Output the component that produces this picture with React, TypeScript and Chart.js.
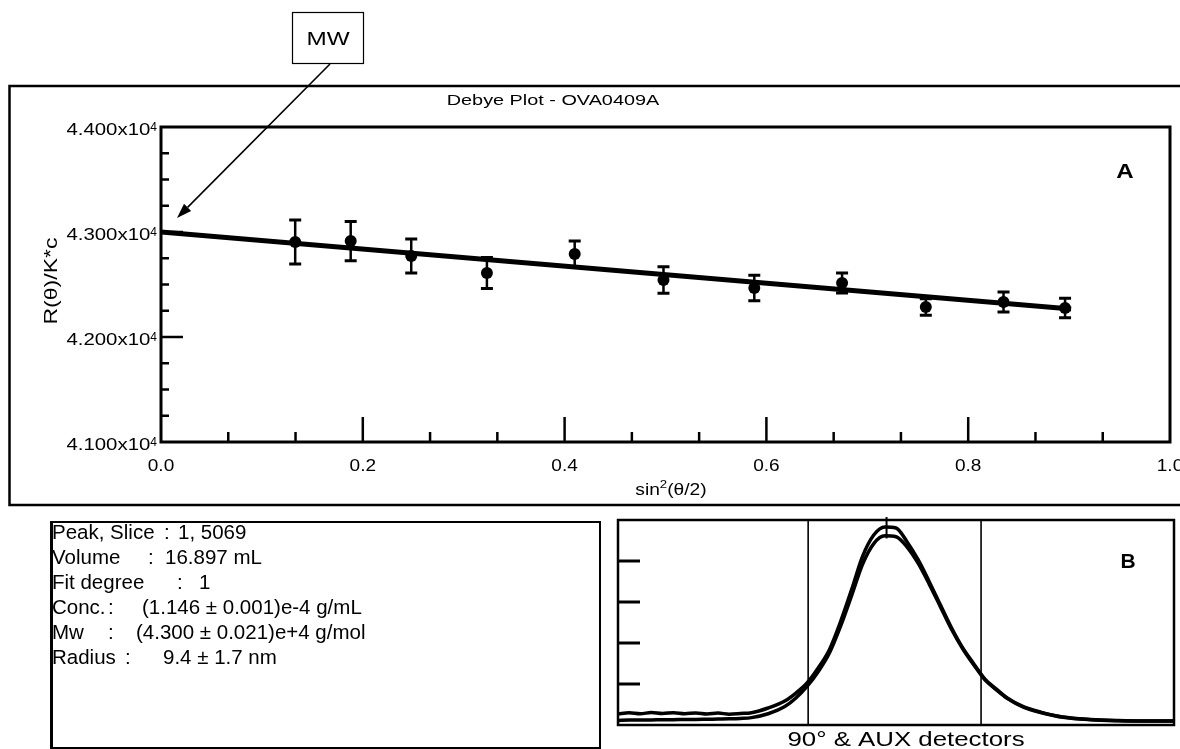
import React, { useEffect, useRef } from "react";
import { Chart, registerables } from "chart.js";
Chart.register(...registerables);

// ---------- Panel A: Debye plot ----------
const sinSq = [0.133, 0.188, 0.248, 0.323, 0.41, 0.498, 0.588, 0.675, 0.758, 0.835, 0.896];
const rk = [42905, 42914, 42771, 42610, 42790, 42543, 42467, 42514, 42286, 42333, 42276];
const rkErr = [210, 187, 162, 148, 124, 127, 121, 95, 78, 95, 93];
const fitX = [0, 0.902];
const fitY = [43000, 42267];
const yMajorTicks = [41000, 42000, 43000, 44000];
const yTickLabels = ["4.100x10", "4.200x10", "4.300x10", "4.400x10"];
const yTickExp = "4";
const yMinorStep = 250;
const xMajorTicks = [0, 0.2, 0.4, 0.6, 0.8, 1.0];
const xTickLabels = ["0.0", "0.2", "0.4", "0.6", "0.8", "1.0"];
const xMinorPerMajor = 3;
const titleA = "Debye Plot - OVA0409A";

// ---------- Panel B: detector traces ----------
const elutionX = [0, 2, 4, 6, 8, 10, 12, 14, 16, 18, 20, 22, 24, 27, 30, 32, 34, 36, 38, 40, 42, 44, 46, 48, 50, 52, 54, 56, 58, 60, 62, 64, 66, 68, 70, 73, 76, 80, 85, 90, 95, 100];
const det90 = [5.4, 6.0, 5.5, 6.1, 5.6, 6.0, 5.5, 5.9, 5.4, 5.8, 5.3, 5.6, 6.0, 8.3, 11.7, 15.6, 20.5, 27.8, 36.6, 50.2, 65.9, 82.4, 92.7, 96.6, 96.1, 89.3, 80.5, 69.8, 58.5, 47.3, 37.6, 29.8, 22.4, 17.6, 13.2, 8.8, 6.3, 3.9, 2.7, 2.2, 2.0, 2.0];
const detAux = [2.2, 2.4, 2.5, 2.5, 2.6, 2.6, 2.7, 2.7, 2.8, 2.9, 3.0, 3.2, 3.6, 5.5, 9.0, 13.2, 18.8, 26.0, 35.0, 48.0, 63.0, 78.5, 88.5, 92.3, 91.8, 86.8, 78.8, 68.6, 57.6, 46.6, 37.2, 29.3, 22.0, 17.3, 13.0, 8.6, 6.1, 3.8, 2.6, 2.1, 1.9, 1.9];
const windowLines = [34.2, 65.3];
const peakSlice = 48.3;
const peakSliceTop = 91;
const bTicks = [20, 40, 60, 80];
const titleB = "90° & AUX detectors";

const infoLines = [
  ["Peak, Slice", ":", "1, 5069"],
  ["Volume", ":", "16.897 mL"],
  ["Fit degree", ":", "1"],
  ["Conc.", ":", "(1.146 ± 0.001)e-4 g/mL"],
  ["Mw", ":", "(4.300 ± 0.021)e+4 g/mol"],
  ["Radius", ":", "9.4 ± 1.7 nm"],
];
const infoColonX = [164, 148, 177, 108, 108, 125];
const infoValueX = [178, 165, 199, 142, 136, 163];

const FONT = '"Liberation Sans", Arial, Helvetica, sans-serif';

function drawText(
  ctx: CanvasRenderingContext2D,
  s: string,
  x: number,
  y: number,
  size: number,
  opts: { align?: string; sx?: number; bold?: boolean } = {}
) {
  const sx = opts.sx ?? 1;
  ctx.save();
  ctx.font = `${opts.bold ? "bold " : ""}${size}px ${FONT}`;
  ctx.textAlign = "left";
  ctx.textBaseline = "alphabetic";
  ctx.fillStyle = "#000";
  const w = ctx.measureText(s).width * sx;
  const x0 = opts.align === "center" ? x - w / 2 : opts.align === "right" ? x - w : x;
  ctx.translate(x0, y);
  ctx.scale(sx, 1);
  ctx.fillText(s, 0, 0);
  ctx.restore();
  return w;
}

const panelAPlugin = {
  id: "panelA",
  beforeDatasetsDraw(chart: any) {
    const { ctx, scales } = chart;
    const x = scales.x, y = scales.y;
    ctx.save();
    ctx.strokeStyle = "#000";
    sinSq.forEach((sv, i) => {
      const px = x.getPixelForValue(sv);
      const t = y.getPixelForValue(rk[i] + rkErr[i]);
      const b = y.getPixelForValue(rk[i] - rkErr[i]);
      ctx.lineWidth = 2.5;
      ctx.beginPath();
      ctx.moveTo(px, t);
      ctx.lineTo(px, b);
      ctx.stroke();
      ctx.lineWidth = 3;
      ctx.beginPath();
      ctx.moveTo(px - 6, t);
      ctx.lineTo(px + 6, t);
      ctx.moveTo(px - 6, b);
      ctx.lineTo(px + 6, b);
      ctx.stroke();
    });
    ctx.restore();
  },
  afterDraw(chart: any) {
    const { ctx, chartArea: a, scales } = chart;
    const x = scales.x, y = scales.y;
    ctx.save();
    ctx.strokeStyle = "#000";
    ctx.fillStyle = "#000";
    // outer frame (open on the right)
    ctx.lineWidth = 2.5;
    ctx.beginPath();
    ctx.moveTo(1180, 86);
    ctx.lineTo(9.5, 86);
    ctx.lineTo(9.5, 505);
    ctx.lineTo(1180, 505);
    ctx.stroke();
    // plot frame
    ctx.lineWidth = 3;
    ctx.strokeRect(a.left, a.top, a.right - a.left, a.bottom - a.top);
    // y ticks (inside)
    ctx.lineWidth = 2.5;
    for (let v = y.min + yMinorStep; v < y.max; v += yMinorStep) {
      const py = y.getPixelForValue(v);
      const major = yMajorTicks.includes(v);
      ctx.beginPath();
      ctx.moveTo(a.left, py);
      ctx.lineTo(a.left + (major ? 22 : 8), py);
      ctx.stroke();
    }
    // x ticks (inside)
    const step = (xMajorTicks[1] - xMajorTicks[0]) / xMinorPerMajor;
    const n = Math.round((x.max - x.min) / step);
    for (let k = 1; k < n; k++) {
      const px = x.getPixelForValue(x.min + k * step);
      const major = k % xMinorPerMajor === 0;
      ctx.beginPath();
      ctx.moveTo(px, a.bottom);
      ctx.lineTo(px, a.bottom - (major ? 25 : 10));
      ctx.stroke();
    }
    // y tick labels
    yMajorTicks.forEach((v, i) => {
      const py = y.getPixelForValue(v);
      ctx.font = `12px ${FONT}`;
      const supW = ctx.measureText(yTickExp).width;
      drawText(ctx, yTickExp, a.left - 4 - supW, py + 4, 12);
      drawText(ctx, yTickLabels[i], a.left - 4 - supW, py + 8, 17, { align: "right", sx: 1.2 });
    });
    // x tick labels
    xMajorTicks.forEach((v, i) => {
      const px = x.getPixelForValue(v);
      drawText(ctx, xTickLabels[i], px, 471, 17, { align: "center", sx: 1.12 });
    });
    // x title: sin²(θ/2)
    {
      const sx = 1.2;
      ctx.font = `16px ${FONT}`;
      const w1 = ctx.measureText("sin").width * sx;
      ctx.font = `11px ${FONT}`;
      const w2 = ctx.measureText("2").width * sx;
      ctx.font = `16px ${FONT}`;
      const w3 = ctx.measureText("(θ/2)").width * sx;
      const total = w1 + w2 + w3;
      const cx = 671 - total / 2;
      drawText(ctx, "sin", cx, 495, 16, { sx });
      drawText(ctx, "2", cx + w1, 488, 11, { sx });
      drawText(ctx, "(θ/2)", cx + w1 + w2, 495, 16, { sx });
    }
    // y title
    ctx.save();
    ctx.translate(57, 281);
    ctx.rotate(-Math.PI / 2);
    drawText(ctx, "R(θ)/K*c", 0, 0, 18, { align: "center", sx: 1.28 });
    ctx.restore();
    // chart title
    drawText(ctx, titleA, 553, 105, 15.5, { align: "center", sx: 1.28 });
    // panel letter
    drawText(ctx, "A", 1125, 178, 21, { align: "center", bold: true, sx: 1.15 });
    // MW call-out box
    ctx.lineWidth = 1.2;
    ctx.strokeRect(292.5, 12.5, 71, 51);
    drawText(ctx, "MW", 328, 45, 18, { align: "center", sx: 1.35 });
    // arrow from box to intercept
    const x0 = 330, y0 = 64;
    const tipX = x.getPixelForValue(fitX[0]) + 16;
    const tipY = y.getPixelForValue(fitY[0]) - 14;
    const ang = Math.atan2(tipY - y0, tipX - x0);
    const hl = 15, hw = 5;
    const bx = tipX - hl * Math.cos(ang), by = tipY - hl * Math.sin(ang);
    ctx.lineWidth = 1.6;
    ctx.beginPath();
    ctx.moveTo(x0, y0);
    ctx.lineTo(bx, by);
    ctx.stroke();
    ctx.beginPath();
    ctx.moveTo(tipX, tipY);
    ctx.lineTo(bx + hw * Math.sin(ang), by - hw * Math.cos(ang));
    ctx.lineTo(bx - hw * Math.sin(ang), by + hw * Math.cos(ang));
    ctx.closePath();
    ctx.fill();
    ctx.restore();
  },
};

const panelBPlugin = {
  id: "panelB",
  afterDraw(chart: any) {
    const { ctx, chartArea: a, scales } = chart;
    const x = scales.x, y = scales.y;
    ctx.save();
    ctx.strokeStyle = "#000";
    ctx.lineWidth = 2.5;
    ctx.strokeRect(a.left, a.top, a.right - a.left, a.bottom - a.top);
    ctx.lineWidth = 3;
    bTicks.forEach((v) => {
      const py = y.getPixelForValue(v);
      ctx.beginPath();
      ctx.moveTo(a.left, py);
      ctx.lineTo(a.left + 22, py);
      ctx.stroke();
    });
    ctx.lineWidth = 1.6;
    windowLines.forEach((v) => {
      const px = x.getPixelForValue(v);
      ctx.beginPath();
      ctx.moveTo(px, a.top);
      ctx.lineTo(px, a.bottom);
      ctx.stroke();
    });
    {
      const px = x.getPixelForValue(peakSlice);
      ctx.lineWidth = 2;
      ctx.beginPath();
      ctx.moveTo(px, a.top - 3);
      ctx.lineTo(px, y.getPixelForValue(peakSliceTop));
      ctx.stroke();
    }
    drawText(ctx, "B", 528, 58, 21, { align: "center", bold: true });
    drawText(ctx, titleB, 306, 236, 21, { align: "center", sx: 1.23 });
    ctx.restore();
  },
};

export default function App() {
  const refA = useRef<HTMLCanvasElement>(null);
  const refB = useRef<HTMLCanvasElement>(null);

  useEffect(() => {
    document.body.style.margin = "0";
    const chartA = new Chart(refA.current as HTMLCanvasElement, {
      type: "scatter",
      data: {
        datasets: [
          {
            label: "fit",
            data: fitX.map((v, i) => ({ x: v, y: fitY[i] })),
            showLine: true,
            borderColor: "#000",
            borderWidth: 5,
            pointRadius: 0,
          },
          {
            label: "data",
            data: sinSq.map((v, i) => ({ x: v, y: rk[i] })),
            pointRadius: 6,
            pointBackgroundColor: "#000",
            pointBorderWidth: 0,
            borderColor: "#000",
          },
        ],
      },
      options: {
        animation: false,
        responsive: false,
        devicePixelRatio: 1,
        layout: { padding: { left: 161, top: 127, right: 10, bottom: 68 } },
        scales: {
          x: { type: "linear", min: 0, max: 1, display: false },
          y: { type: "linear", min: 41000, max: 44000, display: false },
        },
        plugins: { legend: { display: false }, tooltip: { enabled: false } },
      },
      plugins: [panelAPlugin],
    } as any);

    const chartB = new Chart(refB.current as HTMLCanvasElement, {
      type: "scatter",
      data: {
        datasets: [
          {
            label: "90°",
            data: elutionX.map((v, i) => ({ x: v, y: det90[i] })),
            showLine: true,
            borderColor: "#000",
            borderWidth: 3.5,
            pointRadius: 0,
            cubicInterpolationMode: "monotone",
          },
          {
            label: "AUX",
            data: elutionX.map((v, i) => ({ x: v, y: detAux[i] })),
            showLine: true,
            borderColor: "#000",
            borderWidth: 3.5,
            pointRadius: 0,
            cubicInterpolationMode: "monotone",
          },
        ],
      },
      options: {
        animation: false,
        responsive: false,
        devicePixelRatio: 1,
        layout: { padding: { left: 18, top: 10, right: 6, bottom: 24 } },
        scales: {
          x: { type: "linear", min: 0, max: 100, display: false },
          y: { type: "linear", min: 0, max: 100, display: false },
        },
        plugins: { legend: { display: false }, tooltip: { enabled: false } },
      },
      plugins: [panelBPlugin],
    } as any);

    return () => {
      chartA.destroy();
      chartB.destroy();
    };
  }, []);

  return (
    <div
      style={{
        position: "fixed",
        left: 0,
        top: 0,
        width: 1180,
        height: 749,
        background: "#fff",
        overflow: "hidden",
      }}
    >
      <canvas ref={refA} width={1180} height={510} style={{ position: "absolute", left: 0, top: 0 }} />
      <canvas ref={refB} width={580} height={239} style={{ position: "absolute", left: 600, top: 510 }} />
      <div
        style={{
          position: "absolute",
          left: 50,
          top: 521,
          width: 546,
          height: 224,
          borderTop: "2.5px solid #000",
          borderLeft: "3px solid #000",
          borderRight: "2px solid #000",
          borderBottom: "2px solid #000",
        }}
      />
      {infoLines.map((ln, i) => {
        const top = 532 + i * 25 - 12;
        const st: React.CSSProperties = {
          position: "absolute",
          top,
          height: 24,
          lineHeight: "24px",
          fontFamily: FONT,
          fontSize: 20.5,
          color: "#000",
          whiteSpace: "pre",
        };
        return (
          <React.Fragment key={i}>
            <div style={{ ...st, left: 52 }}>{ln[0]}</div>
            <div style={{ ...st, left: infoColonX[i] }}>{ln[1]}</div>
            <div style={{ ...st, left: infoValueX[i] }}>{ln[2]}</div>
          </React.Fragment>
        );
      })}
    </div>
  );
}
